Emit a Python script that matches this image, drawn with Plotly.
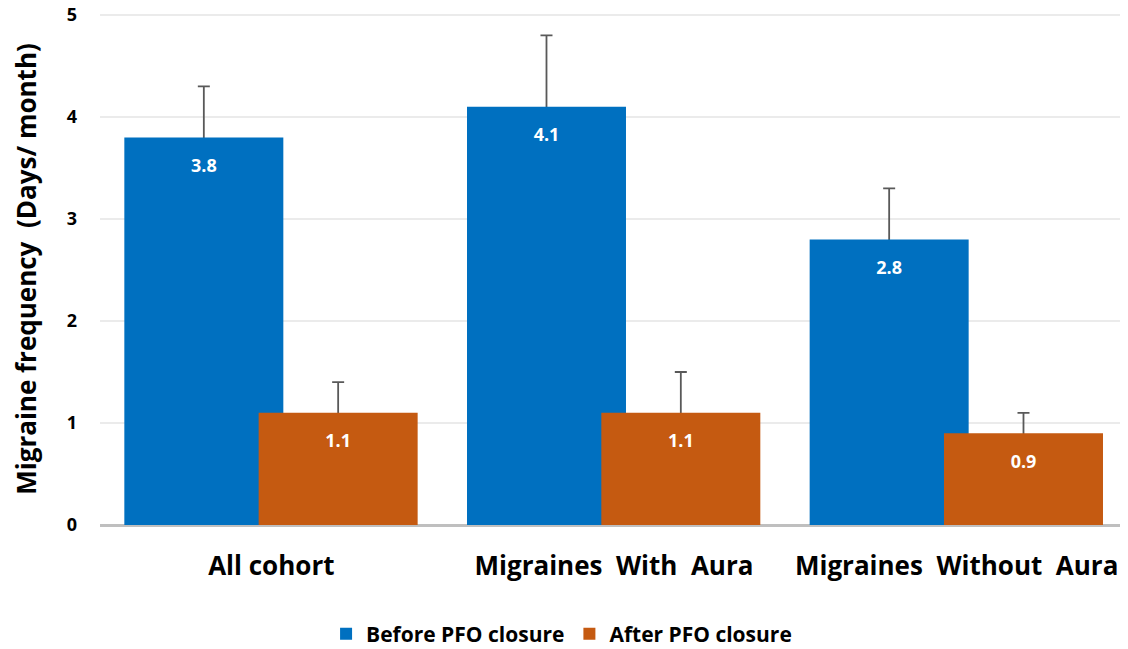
import plotly.graph_objects as go

categories = ["All cohort", "Migraines\u00a0 With\u00a0 Aura", "Migraines\u00a0 Without\u00a0 Aura"]
before_vals = [3.8, 4.1, 2.8]
before_err = [0.5, 0.7, 0.5]
after_vals = [1.1, 1.1, 0.9]
after_err = [0.3, 0.4, 0.2]
series_names = ["Before PFO closure", "After PFO closure"]
tick_vals = [0, 1, 2, 3, 4, 5]

BLUE = "#0070C0"
ORANGE = "#C55A11"
ERR = "#595959"
W = 0.464
OFFS = [-0.429, -0.037]
xpos = list(range(len(categories)))

series = [(before_vals, before_err, series_names[0], BLUE, OFFS[0]),
          (after_vals, after_err, series_names[1], ORANGE, OFFS[1])]

fig = go.Figure()
# error bars drawn first (under the opaque bars) so only the upper whisker shows
for vals, errs, name, col, off in series:
    fig.add_trace(go.Bar(
        x=xpos, y=vals, width=W, offset=off, showlegend=False, hoverinfo="skip",
        marker=dict(color="rgba(0,0,0,0)", line=dict(width=0)),
        error_y=dict(type="data", array=errs, symmetric=True,
                     color=ERR, thickness=1.8, width=6),
    ))

for vals, errs, name, col, off in series:
    fig.add_trace(go.Bar(
        x=xpos, y=vals, name=name,
        marker=dict(color=col, line=dict(width=0)),
        width=W, offset=off, textposition="none",
    ))

# value labels, just inside the top of each bar
for vals, errs, name, col, off in series:
    fig.add_trace(go.Scatter(
        x=[i + off + W / 2 for i in xpos], y=vals, mode="markers+text",
        marker=dict(size=32, opacity=0), showlegend=False, hoverinfo="skip",
        text=[f"{v:.1f}" for v in vals], textposition="bottom center",
        textfont=dict(family="Open Sans", size=18, color="white", weight="bold"),
    ))

# page has an 8px body margin; margins compensate so the visible area matches
fig.update_layout(
    width=1120, height=660,
    barmode="overlay",
    plot_bgcolor="white", paper_bgcolor="white",
    margin=dict(l=92, r=0, t=5, b=143),
    font=dict(family="Open Sans", color="black"),
    showlegend=True,
    legend=dict(orientation="h", x=0.449, xanchor="center", y=-0.213, yanchor="middle",
                font=dict(family="Open Sans", size=21, color="black", weight="bold"),
                itemwidth=30, traceorder="normal"),
)
fig.update_xaxes(
    tickmode="array", tickvals=xpos, ticktext=categories,
    showgrid=False, ticks="", showline=False, zeroline=False, automargin=False,
    tickfont=dict(family="Open Sans", size=26, color="black", weight="bold"),
    ticklabelstandoff=23, ticklabeloverflow="allow",
    range=[-0.5, 2.5],
)
fig.update_yaxes(
    range=[0, 5.02], tickvals=tick_vals, showgrid=True, gridcolor="#EBEBEB", gridwidth=1.5,
    zeroline=True, zerolinecolor="#BFBFBF", zerolinewidth=2.5, automargin=False,
    tickfont=dict(family="Open Sans", size=18, color="black", weight="bold"),
    ticks="", ticklabelstandoff=22, ticklabeloverflow="allow",
    title=dict(text="Migraine frequency\u00a0 (Days/ month)",
               font=dict(family="Open Sans", size=26, color="black", weight="bold"),
               standoff=40),
)

fig.write_html("out.html")
